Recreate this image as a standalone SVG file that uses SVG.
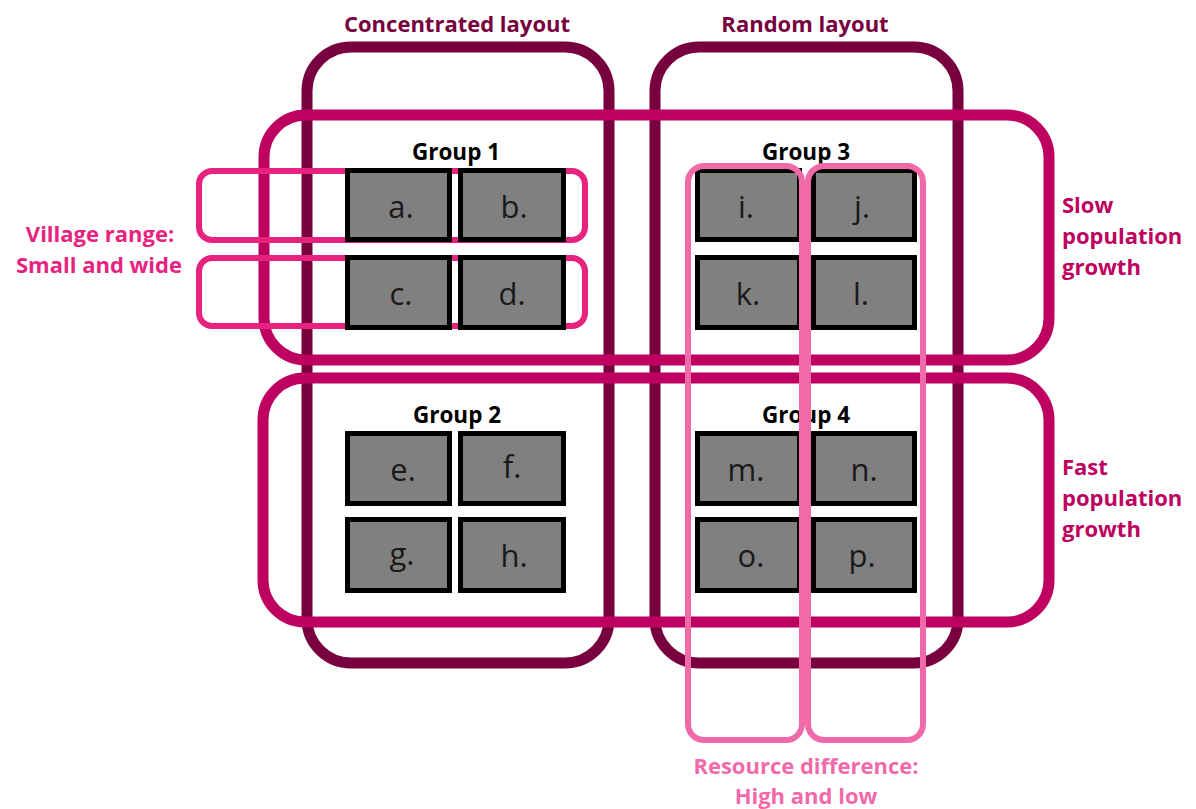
<svg xmlns="http://www.w3.org/2000/svg" width="1196" height="809" viewBox="0 0 1196 809">
<style>
.maroon{fill:none;stroke:#78003E;stroke-width:11}
.mag{fill:none;stroke:#BE0060;stroke-width:11}
.vil{fill:none;stroke:#E8227F;stroke-width:6}
.res{fill:none;stroke:#F06AAA;stroke-width:6}
.box{fill:#808080;stroke:#000;stroke-width:5}
.lbl{font-family:"Open Sans","Liberation Sans",sans-serif;font-size:31px;fill:#1a1a1a;text-anchor:middle}
.grp{font-family:"Open Sans","Liberation Sans",sans-serif;font-size:22.5px;font-weight:bold;fill:#000;text-anchor:middle}
.t{font-family:"Open Sans","Liberation Sans",sans-serif;font-size:22px;font-weight:bold}
</style>
<rect width="1196" height="809" fill="#fff"/>
<g id="layout-concentrated"><rect class="maroon" x="307" y="47" width="302" height="616" rx="44"/></g>
<g id="layout-random"><rect class="maroon" x="655" y="47" width="303" height="616" rx="44"/></g>
<g id="growth-slow"><rect class="mag" x="264" y="115" width="785" height="245" rx="42"/></g>
<g id="growth-fast"><rect class="mag" x="263" y="378" width="786" height="244" rx="42"/></g>
<g id="village-range">
<rect class="vil" x="199" y="171" width="386" height="69" rx="13"/>
<rect class="vil" x="199" y="258" width="386" height="68" rx="13"/>
</g>
<g id="titles">
<text class="t" x="457" y="32" text-anchor="middle" fill="#78003E">Concentrated layout</text>
<text class="t" x="805" y="32" text-anchor="middle" fill="#78003E">Random layout</text>
<text class="t" fill="#BE0060" font-size="22.5"><tspan x="1062" y="213">Slow</tspan><tspan x="1062" y="244">population</tspan><tspan x="1062" y="275">growth</tspan></text>
<text class="t" fill="#BE0060" font-size="22.5"><tspan x="1062" y="475">Fast</tspan><tspan x="1062" y="506">population</tspan><tspan x="1062" y="537">growth</tspan></text>
<text class="t" text-anchor="middle" fill="#E8227F"><tspan x="100" y="242">Village range:</tspan><tspan x="99" y="273">Small and wide</tspan></text>
<text class="t" text-anchor="middle" fill="#F06AAA"><tspan x="806" y="774">Resource difference:</tspan><tspan x="806" y="804">High and low</tspan></text>
</g>
<g id="group1">
<text class="grp" x="456" y="160">Group 1</text>
<rect class="box" x="347.5" y="170.5" width="102" height="69"/><text class="lbl" x="401" y="218">a.</text>
<rect class="box" x="460.5" y="170.5" width="103" height="69"/><text class="lbl" x="514" y="218">b.</text>
<rect class="box" x="347.5" y="257.5" width="102" height="70"/><text class="lbl" x="401" y="305">c.</text>
<rect class="box" x="460.5" y="257.5" width="103" height="70"/><text class="lbl" x="512" y="305">d.</text>
</g>
<g id="group2">
<text class="grp" x="457" y="423">Group 2</text>
<rect class="box" x="347.5" y="433.5" width="102" height="70"/><text class="lbl" x="403" y="481">e.</text>
<rect class="box" x="460.5" y="433.5" width="103" height="70"/><text class="lbl" x="512" y="478">f.</text>
<rect class="box" x="347.5" y="519.5" width="102" height="71"/><text class="lbl" x="402" y="565">g.</text>
<rect class="box" x="460.5" y="519.5" width="103" height="71"/><text class="lbl" x="514" y="567">h.</text>
</g>
<g id="group3">
<text class="grp" x="806" y="160">Group 3</text>
<rect class="box" x="697.5" y="170.5" width="102" height="69"/><text class="lbl" x="746" y="218">i.</text>
<rect class="box" x="813.5" y="170.5" width="101" height="69"/><text class="lbl" x="862" y="218">j.</text>
<rect class="box" x="697.5" y="257.5" width="102" height="70"/><text class="lbl" x="748" y="305">k.</text>
<rect class="box" x="813.5" y="257.5" width="101" height="70"/><text class="lbl" x="861" y="305">l.</text>
</g>
<g id="group4">
<text class="grp" x="806" y="423">Group 4</text>
<rect class="box" x="697.5" y="433.5" width="102" height="70"/><text class="lbl" x="746" y="481">m.</text>
<rect class="box" x="813.5" y="433.5" width="101" height="70"/><text class="lbl" x="864" y="481">n.</text>
<rect class="box" x="697.5" y="519.5" width="102" height="71"/><text class="lbl" x="751" y="567">o.</text>
<rect class="box" x="813.5" y="519.5" width="101" height="71"/><text class="lbl" x="862" y="567">p.</text>
</g>
<g id="resource-difference">
<rect class="res" x="688" y="166" width="114" height="574" rx="16"/>
<rect class="res" x="808" y="166" width="115" height="574" rx="16"/>
</g>
</svg>
